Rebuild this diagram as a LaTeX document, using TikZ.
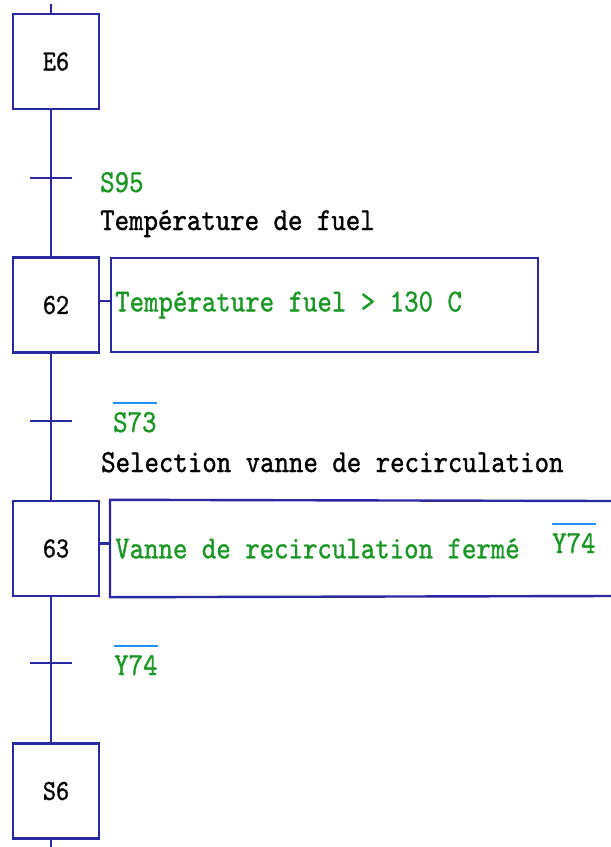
\documentclass[tikz,border=0pt]{standalone}
\usepackage{fontspec}
\newfontfamily\grafcetfont{lmmono10-regular.otf}[FakeStretch=0.86,FakeBold=1]
\definecolor{grafblue}{RGB}{40,40,160}
\definecolor{grafgreen}{RGB}{25,150,35}
\definecolor{negblue}{RGB}{30,144,255}
\newcommand\actiontxt[2][419pt]{\makebox[#1][l]{#2}}
\tikzset{
  etape/.style={draw=grafblue, line width=2.4pt, minimum width=86pt, minimum height=95pt,
    inner sep=0pt, font=\grafcetfont\fontsize{29}{29}\selectfont},
  action/.style={draw=grafblue, line width=2.4pt, anchor=west, inner xsep=4pt,
    minimum height=94pt, text=grafgreen, font=\grafcetfont\fontsize{32}{32}\selectfont},
  liaison/.style={grafblue, line width=2.4pt},
  recep/.style={anchor=base west, inner sep=0pt, font=\grafcetfont\fontsize{32}{32}\selectfont},
  barre/.style={negblue, line width=2pt},
}
\begin{document}
\begin{tikzpicture}[x=1pt,y=-1pt]
    \useasboundingbox (0,0) rectangle (611,847);
    \coordinate (haut) at (51,4);
    \coordinate (bas) at (51,847);
    \coordinate (t1) at (51,178);
    \coordinate (t2) at (51,421);
    \coordinate (t3) at (51,663);

    \node[etape] (e6) at (56,61.5) {E6};
    \node[etape] (s62) at (56,305) {62};
    \node[etape] (s63) at (56,548.5) {63};
    \node[etape] (s6) at (56,791) {S6};

    \node[action] (a62) at (110,305) {\actiontxt{Température fuel > 130 C}};
    \node[action, draw=none, minimum height=95pt] (a63) at (110,548.5)
        {\actiontxt[493pt]{Vanne de recirculation fermé}};
    \node[recep, text=grafgreen] (y74a) at (552,553) {Y74};
    \coordinate (a63h) at (611,501);
    \coordinate (a63b) at (611,596);

    \draw[liaison] (haut) -- (e6.north -| haut)
        (e6.south -| haut) -- (t1) -- (s62.north -| haut)
        (s62.south -| haut) -- (t2) -- (s63.north -| haut)
        (s63.south -| haut) -- (t3) -- (s6.north -| haut)
        (s6.south -| haut) -- (bas);
    \foreach \t in {t1,t2,t3}
        \draw[liaison] ([xshift=-21pt]\t) -- ([xshift=21pt]\t);

    \draw[liaison] ([yshift=4pt]s62.east) -- ([yshift=4pt]a62.west);
    \draw[liaison] ([yshift=5pt]s63.east) -- ([yshift=5pt]a63.west);
    \draw[liaison] (a63h) -- (a63.north west) -- (a63.south west) -- (a63b);

    \node[recep, text=grafgreen] (r1) at (100,192) {S95};
    \node[recep] (c1) at (100,230) {Température de fuel};
    \node[recep, text=grafgreen] (r2) at (113,432) {S73};
    \node[recep] (c2) at (101,472) {Selection vanne de recirculation};
    \node[recep, text=grafgreen] (r3) at (114,675) {Y74};

    \foreach \v in {r2,r3,y74a}
        \draw[barre] ([yshift=29pt]\v.base west) -- ([yshift=29pt]\v.base east);
\end{tikzpicture}
\end{document}
